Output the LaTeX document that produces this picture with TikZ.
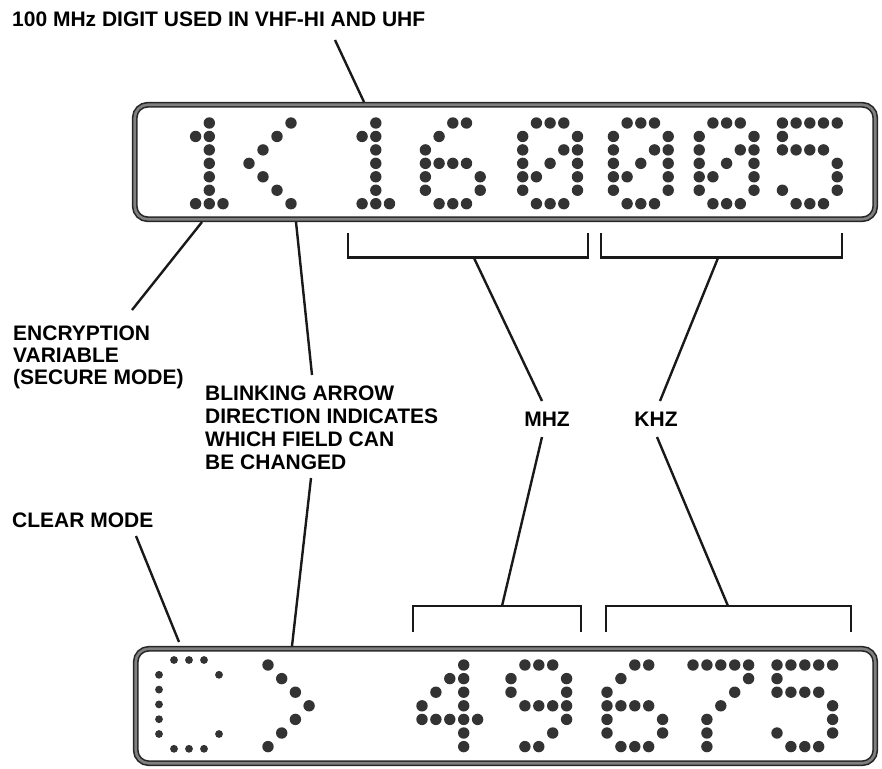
\documentclass[tikz,border=0pt]{standalone}
\usepackage{fontspec}
\setmainfont{Liberation Sans}
\newcommand\dmchar[6]{\foreach \c/\r in {#6}{\fill[dotc] ({#1+\c*#3},{#2+\r*#4}) circle[radius=#5pt];}}
\begin{document}
\begin{tikzpicture}[x=1pt,y=-1pt,
  lbl/.style={font=\bfseries\fontsize{21}{22}\selectfont, inner sep=0pt, anchor=base west},
  clbl/.style={font=\bfseries\fontsize{21}{22}\selectfont, inner sep=0pt, anchor=base},
  conn/.style={line width=2.4pt, draw=black!90},
  brk/.style={line width=2.6pt, draw=black!90},
  frame/.style={draw=black!85, double=black!50, double distance=2.6pt, line width=1.6pt, rounded corners=13pt, inner sep=0pt},
  dotc/.style={fill=black!80}]
\useasboundingbox (0,0) rectangle (882,768);

% display frames
\node[frame, minimum width=740.5pt, minimum height=114.5pt] (topdisp) at (505,162) {};
\node[frame, minimum width=739.5pt, minimum height=114.5pt] (botdisp) at (505.5,706) {};

% top display characters
\def\tp{13.7}
\dmchar{181.9}{123}{\tp}{13.45}{5.7}{2/0,1/1,2/1,2/2,2/3,2/4,2/5,1/6,2/6,3/6}
\dmchar{249}{123}{14}{13.45}{5.7}{3/0,2/1,1/2,0/3,1/4,2/5,3/6}
\dmchar{348.4}{123}{\tp}{13.45}{5.7}{2/0,1/1,2/1,2/2,2/3,2/4,2/5,1/6,2/6,3/6}
\dmchar{425.4}{123}{\tp}{13.45}{5.7}{2/0,3/0,1/1,0/2,0/3,1/3,2/3,3/3,0/4,4/4,0/5,4/5,1/6,2/6,3/6}
\dmchar{522.7}{123}{\tp}{13.45}{5.7}{1/0,2/0,3/0,0/1,4/1,0/2,3/2,4/2,0/3,2/3,4/3,0/4,1/4,4/4,0/5,4/5,1/6,2/6,3/6}
\dmchar{613.4}{123}{\tp}{13.45}{5.7}{1/0,2/0,3/0,0/1,4/1,0/2,3/2,4/2,0/3,2/3,4/3,0/4,1/4,4/4,0/5,4/5,1/6,2/6,3/6}
\dmchar{699.2}{123}{\tp}{13.45}{5.7}{1/0,2/0,3/0,0/1,4/1,0/2,3/2,4/2,0/3,2/3,4/3,0/4,1/4,4/4,0/5,4/5,1/6,2/6,3/6}
\dmchar{782.4}{123}{\tp}{13.45}{5.7}{0/0,1/0,2/0,3/0,4/0,0/1,0/2,1/2,2/2,3/2,4/3,4/4,0/5,4/5,1/6,2/6,3/6}

% bottom display characters
\dmchar{159}{660}{15}{14.8}{3.9}{1/0,2/0,3/0,0/1,0/2,0/3,0/4,0/5,4/1,4/5,1/6,2/6,3/6}
\dmchar{268}{665}{13.7}{13.6}{5.7}{0/0,1/1,2/2,3/3,2/4,1/5,0/6}
\def\bp{13.9}
\dmchar{422}{665}{\bp}{13.6}{5.7}{3/0,2/1,3/1,1/2,3/2,0/3,3/3,0/4,1/4,2/4,3/4,4/4,3/5,3/6}
\dmchar{511}{665}{\bp}{13.6}{5.7}{1/0,2/0,3/0,0/1,4/1,0/2,4/2,1/3,2/3,3/3,4/3,4/4,3/5,1/6,2/6}
\dmchar{607}{665}{\bp}{13.6}{5.7}{2/0,3/0,1/1,0/2,0/3,1/3,2/3,3/3,0/4,4/4,0/5,4/5,1/6,2/6,3/6}
\dmchar{693}{665}{\bp}{13.6}{5.7}{0/0,1/0,2/0,3/0,4/0,4/1,3/2,2/3,1/4,1/5,1/6}
\dmchar{777}{665}{\bp}{13.6}{5.7}{0/0,1/0,2/0,3/0,4/0,0/1,0/2,1/2,2/2,3/2,4/3,4/4,0/5,4/5,1/6,2/6,3/6}

% labels
\node[lbl] (l100) at (12,27) {100 MHz DIGIT USED IN VHF-HI AND UHF};
\node[lbl] (enc1) at (13,340) {ENCRYPTION};
\node[lbl] (enc2) at (13,362) {VARIABLE};
\node[lbl] (enc3) at (13,384) {(SECURE MODE)};
\node[lbl] (bl1) at (205,400) {BLINKING ARROW};
\node[lbl] (bl2) at (205,423) {DIRECTION INDICATES};
\node[lbl] (bl3) at (205,446) {WHICH FIELD CAN};
\node[lbl] (bl4) at (205,469) {BE CHANGED};
\node[lbl] (clr) at (12,527) {CLEAR MODE};
\node[clbl] (mhz) at (547,426) {MHZ};
\node[clbl] (khz) at (656,426) {KHZ};

% connector end points
\coordinate (a1) at (335,40);   \coordinate (a2) at (364,102);
\coordinate (e1) at (202,222);  \coordinate (e2) at (132,310);
\coordinate (b1) at (296,222);  \coordinate (b2) at (312,375);
\coordinate (b3) at (311,478);  \coordinate (b4) at (292,646);
\coordinate (c1) at (136,536);  \coordinate (c2) at (179,642);
\coordinate (m1) at (474,258);  \coordinate (m2) at (542,401);
\coordinate (m3) at (542,437);  \coordinate (m4) at (502,606);
\coordinate (k1) at (718,258);  \coordinate (k2) at (660,401);
\coordinate (k3) at (657,437);  \coordinate (k4) at (728,606);

\draw[conn] (a1) -- (a2);
\draw[conn] (e1) -- (e2);
\draw[conn] (b1) -- (b2);
\draw[conn] (b3) -- (b4);
\draw[conn] (c1) -- (c2);
\draw[conn] (m1) -- (m2);
\draw[conn] (m3) -- (m4);
\draw[conn] (k1) -- (k2);
\draw[conn] (k3) -- (k4);

% brackets
\draw[brk] (348,233) -- (348,257.5) -- (588,257.5) -- (588,233);
\draw[brk] (601,233) -- (601,257.5) -- (842,257.5) -- (842,233);
\draw[brk] (413,632) -- (413,606) -- (581,606) -- (581,632);
\draw[brk] (606,632) -- (606,606) -- (851,606) -- (851,632);
\end{tikzpicture}
\end{document}
